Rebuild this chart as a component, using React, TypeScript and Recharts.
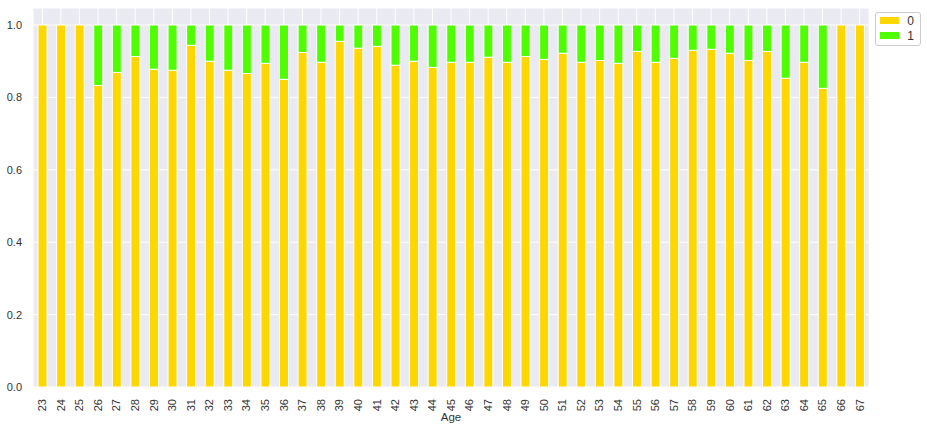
import { BarChart, Bar, XAxis, YAxis, CartesianGrid } from "recharts";

const ages = [
  23, 24, 25, 26, 27, 28, 29, 30, 31, 32, 33, 34, 35, 36, 37, 38, 39, 40, 41, 42, 43, 44, 45,
  46, 47, 48, 49, 50, 51, 52, 53, 54, 55, 56, 57, 58, 59, 60, 61, 62, 63, 64, 65, 66, 67,
];
// share of class 0 per age
const share0 = [
  1.0, 1.0, 1.0, 0.833, 0.869, 0.913, 0.878, 0.875, 0.944, 0.9, 0.875, 0.866, 0.894, 0.85,
  0.924, 0.897, 0.955, 0.936, 0.941, 0.889, 0.9, 0.883, 0.897, 0.897, 0.911, 0.897, 0.913,
  0.905, 0.922, 0.897, 0.902, 0.894, 0.927, 0.897, 0.908, 0.93, 0.933, 0.922, 0.902, 0.927,
  0.853, 0.897, 0.825, 1.0, 1.0,
];
// share of class 1 per age
const share1 = [
  0, 0, 0, 0.167, 0.131, 0.087, 0.122, 0.125, 0.056, 0.1, 0.125, 0.134, 0.106, 0.15, 0.076,
  0.103, 0.045, 0.064, 0.059, 0.111, 0.1, 0.117, 0.103, 0.103, 0.089, 0.103, 0.087, 0.095,
  0.078, 0.103, 0.098, 0.106, 0.073, 0.103, 0.092, 0.07, 0.067, 0.078, 0.098, 0.073, 0.147,
  0.103, 0.175, 0, 0,
];
const yTicks = [0, 0.2, 0.4, 0.6, 0.8, 1.0];

const data = ages.map((a, i) => ({ age: String(a), c0: share0[i], c1: share1[i] }));

const FONT = "'Liberation Sans', Arial, sans-serif";

function AgeTick(props: any) {
  const { x, y, payload } = props;
  return (
    <text
      x={x}
      y={y}
      transform={`rotate(-90 ${x} ${y})`}
      textAnchor="end"
      dy="0.35em"
      fontSize={11}
      fill="#333"
      fontFamily={FONT}
    >
      {payload.value}
    </text>
  );
}

function LegendBox() {
  const item = (color: string, label: string) => (
    <div style={{ display: "flex", alignItems: "center", height: 15 }}>
      <span style={{ width: 21, height: 7, background: color, display: "inline-block", marginRight: 8 }} />
      <span style={{ fontSize: 12, color: "#333" }}>{label}</span>
    </div>
  );
  return (
    <div
      style={{
        position: "absolute",
        left: 875,
        top: 12,
        border: "1px solid #ccc",
        borderRadius: 3,
        background: "#fff",
        padding: "0 6px 2px 4px",
        fontFamily: FONT,
        width: 34,
      }}
    >
      {item("#ffd700", "0")}
      {item("#4fff00", "1")}
    </div>
  );
}

export default function App() {
  return (
    <div style={{ position: "absolute", left: 0, top: 0, width: 927, height: 430, fontFamily: FONT }}>
      <BarChart
        width={927}
        height={430}
        data={data}
        margin={{ top: 8, right: 58, bottom: 0, left: 0 }}
        barCategoryGap="25%"
      >
        <CartesianGrid fill="#eaeaf2" stroke="#fff" strokeWidth={1} />
        <XAxis
          dataKey="age"
          interval={0}
          height={43}
          tickLine={false}
          axisLine={false}
          tickSize={0}
          tickMargin={12}
          tick={<AgeTick />}
          label={{ value: "Age", position: "insideBottom", offset: 9, fontSize: 11.5, fill: "#333" }}
        />
        <YAxis
          width={33}
          domain={[0, 1.047]}
          ticks={yTicks}
          tickFormatter={(v: number) => v.toFixed(1)}
          tickLine={false}
          axisLine={false}
          tickSize={0}
          tickMargin={11}
          tick={{ fontSize: 11, fill: "#333" }}
          allowDataOverflow
        />
        <Bar dataKey="c0" stackId="a" fill="#ffd700" stroke="#fff" strokeWidth={1} barSize={9} isAnimationActive={false} />
        <Bar dataKey="c1" stackId="a" fill="#4fff00" stroke="#fff" strokeWidth={1} barSize={9} isAnimationActive={false} />
      </BarChart>
      <LegendBox />
    </div>
  );
}
